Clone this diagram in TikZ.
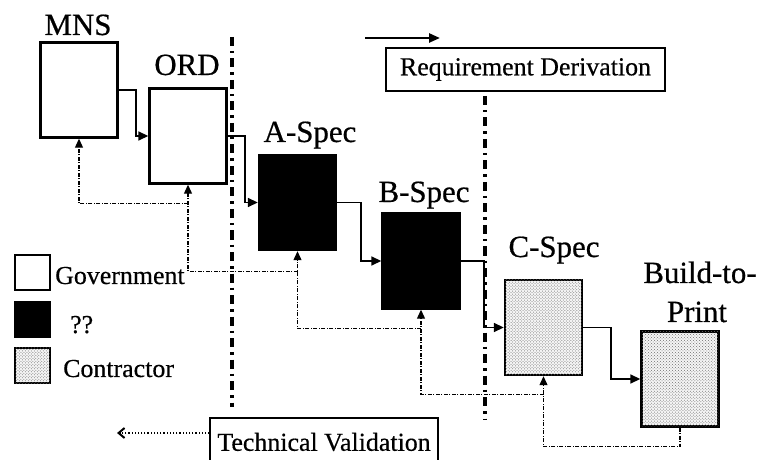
\documentclass[tikz,border=0pt]{standalone}
\usepackage{fontspec}
\setmainfont{Liberation Serif}
\usetikzlibrary{arrows.meta, positioning, calc, patterns}
\definecolor{stippleGray}{RGB}{110,110,110}

\begin{document}
\begin{tikzpicture}[x=1bp, y=-1bp,
    specbox/.style={draw, line width=2.4bp, minimum width=77bp, minimum height=95bp, inner sep=0pt},
    govbox/.style={specbox, fill=white},
    unkbox/.style={specbox, fill=black},
    conbox/.style={specbox, fill=gray!8, postaction={pattern=crosshatch dots, pattern color=stippleGray}},
    keybox/.style={minimum width=35bp, minimum height=35bp},
    ttl/.style={anchor=base, inner sep=0pt, font=\fontsize{31}{33}\selectfont\addfontfeature{FakeBold=0.6}},
    txt/.style={inner sep=0pt, font=\fontsize{26}{28}\selectfont\addfontfeature{FakeBold=0.5}},
    flow/.style={line width=1.6bp, -{Triangle[length=10bp, width=9bp]}},
    back/.style={line width=1.1bp, dash pattern=on 4bp off 1.5bp on 1bp off 1.5bp, -{Triangle[length=9bp, width=8bp]}},
    divider/.style={line width=3.6bp, dash pattern=on 9bp off 5bp on 2.5bp off 5bp}]
                \useasboundingbox (0,0) rectangle (760,460);
                \clip (0,0) rectangle (760,460);

                % Dividers
                \draw[divider] (232,37) -- (232,407);
                \draw[divider] (485,96) -- (485,420);

                % Specification boxes
                \node[govbox] (mns) at (79,90) {};
                \node[govbox] (ord) at (188,136) {};
                \node[unkbox] (aspec) at (297.5,202.5) {};
                \node[unkbox] (bspec) at (421,261) {};
                \node[conbox] (cspec) at (543.5,327.5) {};
                \node[conbox] (btp) at (680,379) {};

                % Box titles
                \node[ttl] (mnslbl) at (78,35) {MNS};
                \node[ttl] (ordlbl) at (187,75) {ORD};
                \node[ttl] (alabel) at (310,142) {A-Spec};
                \node[ttl] (blabel) at (424,202) {B-Spec};
                \node[ttl] (clabel) at (554,257) {C-Spec};
                \node[ttl] (btplbl) at (700,283) {Build-to-};
                \node[ttl] (prtlbl) at (697,322) {Print};

                % Derivation flow
                \draw[flow] (mns.east) -- ++(17,0) |- (ord.west);
                \draw[flow] (ord.east) -- ++(17,0) |- (aspec.west);
                \draw[flow] (aspec.east) -- ++(24,0) |- (bspec.west);
                \draw[flow] (bspec.east) -- ++(23,0) |- (cspec.west);
                \draw[flow] (cspec.east) -- ++(28,0) |- (btp.west);

                % Validation feedback
                \draw[back] (btp.south) -- ++(0,19) -| (cspec.south);
                \draw[back] ($(cspec.south)+(0,18)$) -| (bspec.south);
                \draw[back] ($(bspec.south)+(0,19)$) -| (aspec.south);
                \draw[back] ($(aspec.south)+(0,20)$) -| (ord.south);
                \draw[back] ($(ord.south)+(0,19)$) -| (mns.south);

                % Direction boxes
                \node[txt, draw, line width=1.3bp, minimum width=279bp, minimum height=43bp] (rd) at (525.5,69.5) {Requirement Derivation};
                \coordinate (rdtail) at (365,38);
                \coordinate (rdhead) at (440,38);
                \draw[line width=2.4bp, -{Triangle[length=11bp, width=9bp]}] (rdtail) -- (rdhead);

                \node[txt, draw, line width=1.3bp, minimum width=228bp, minimum height=48bp] (tv) at (324,442) {Technical Validation};
                \coordinate (tvend) at (117,433);
                \draw[line width=1.2bp, dotted, -{Straight Barb[length=6bp, width=10bp, line width=2bp]}] (tvend -| tv.west) -- (tvend);

                % Legend
                \node[govbox, keybox] (keygov) at (32.5,272.5) {};
                \node[unkbox, keybox] (keyunk) at (32.5,319.5) {};
                \node[conbox, keybox] (keycon) at (32.5,365.5) {};
                \node[txt, anchor=base west] (govtxt) at (55,284) {Government};
                \node[txt, anchor=base west] (unktxt) at (70,333) {??};
                \node[txt, anchor=base west] (contxt) at (63,377) {Contractor};
            \end{tikzpicture}
\end{document}
